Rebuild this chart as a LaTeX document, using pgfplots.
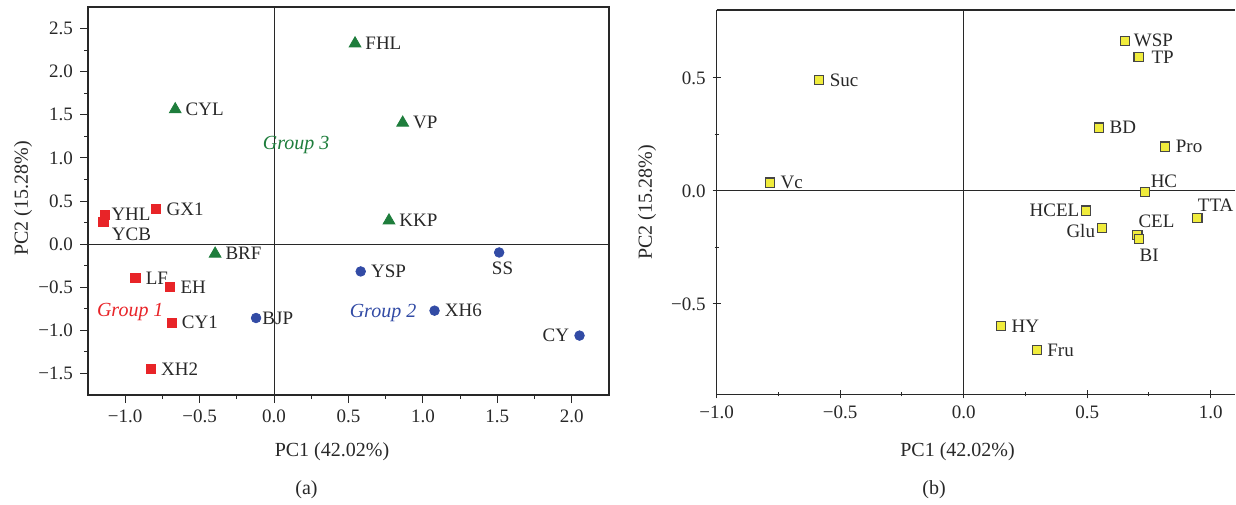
\documentclass[border=0pt]{standalone}
\usepackage{fontspec}
\setmainfont{Liberation Serif}
\usepackage{pgfplots}
\pgfplotsset{compat=1.18}
\definecolor{gred}{RGB}{232,36,40}
\definecolor{ggreen}{RGB}{30,125,60}
\definecolor{gblue}{RGB}{50,75,165}
\definecolor{gyel}{RGB}{240,236,60}
\definecolor{gedge}{RGB}{70,70,70}
\definecolor{ink}{RGB}{40,40,40}
\newcommand\lf{\fontsize{9.5}{11}\selectfont}
\newcommand\af{\fontsize{10}{12}\selectfont}

\pgfplotsset{
  pcastyle/.style={
    scale only axis,
    tick align=outside,
    major tick length=4pt, minor tick length=2pt,
    tick style={ink, line width=0.5pt},
    axis line style={ink, line width=0.6pt},
    ticklabel style={font=\lf, text=ink},
    minor x tick num=1, minor y tick num=1,
    clip=false,
  },
  lab/.style={
    only marks,
    nodes near coords,
    point meta=explicit symbolic,
    every node near coord/.append style={anchor=#1, font=\lf, text=ink, inner xsep=5pt, inner ysep=2pt},
  },
  nudge/.style 2 args={every node near coord/.append style={xshift=#1, yshift=#2}},
  redsq/.style={mark=square*, mark size=2.3pt, mark options={fill=gred, draw=gred}},
  greentri/.style={mark=triangle*, mark size=3.4pt, mark options={fill=ggreen, draw=ggreen}},
  bluedot/.style={mark=*, mark size=2.4pt, mark options={fill=gblue, draw=gblue}},
  yelsq/.style={mark=square*, mark size=2.3pt, mark options={fill=gyel, draw=gedge, line width=0.6pt}},
}

\begin{document}
\begin{tikzpicture}
\useasboundingbox (0,0) rectangle (618pt,252pt);

% ---------- panel (a)
\begin{axis}[pcastyle,
  at={(44pt,54.5pt)}, anchor=south west,
  width=260.5pt, height=194pt,
  xmin=-1.25, xmax=2.25, ymin=-1.75, ymax=2.75,
  tick pos=left,
  xtick={-1,-0.5,0,0.5,1,1.5,2},
  xticklabels={−1.0,−0.5,0.0,0.5,1.0,1.5,2.0},
  ytick={-1.5,-1,-0.5,0,0.5,1,1.5,2,2.5},
  yticklabels={−1.5,−1.0,−0.5,0.0,0.5,1.0,1.5,2.0,2.5},
]
\draw[ink, line width=0.5pt] (axis cs:0,-1.75) -- (axis cs:0,2.75);
\draw[ink, line width=0.5pt] (axis cs:-1.25,0) -- (axis cs:2.25,0);
% Group 1
\addplot[lab=west, redsq] coordinates {
  (-0.792,0.405) [GX1] (-0.931,-0.394) [LF]
  (-0.698,-0.498) [EH] (-0.689,-0.911) [CY1] (-0.828,-1.451) [XH2]};
\addplot[lab=west, nudge={-1.7pt}{0.5pt}, redsq] coordinates {(-1.139,0.339) [YHL]};
\addplot[lab=north west, nudge={-1pt}{-1pt}, redsq] coordinates {(-1.146,0.262) [YCB]};
% Group 3
\addplot[lab=west, greentri] coordinates {
  (-0.664,1.562) [CYL] (0.544,2.326) [FHL] (0.864,1.407) [VP]
  (0.772,0.273) [KKP] (-0.396,-0.112) [BRF]};
% Group 2
\addplot[lab=west, bluedot] coordinates {
  (0.582,-0.317) [YSP] (1.078,-0.772) [XH6]};
\addplot[lab=west, nudge={-2pt}{0pt}, bluedot] coordinates {(-0.121,-0.857) [BJP]};
\addplot[lab=north, nudge={1.7pt}{-2.5pt}, bluedot] coordinates {(1.512,-0.097) [SS]};
\addplot[lab=east, bluedot] coordinates {(2.052,-1.061) [CY]};
\node[text=gred, font=\af\itshape] at (axis cs:-0.966,-0.784) {Group 1};
\node[text=gblue, font=\af\itshape] at (axis cs:0.732,-0.799) {Group 2};
\node[text=ggreen, font=\af\itshape] at (axis cs:0.148,1.149) {Group 3};
\end{axis}

% ---------- panel (b)
\begin{axis}[pcastyle,
  at={(358.35pt,54.85pt)}, anchor=south west,
  width=259.35pt, height=192.1pt,
  xmin=-1, xmax=1.1, ymin=-0.9, ymax=0.8,
  axis lines=left, axis line style={-},
  xtick={-1,-0.5,0,0.5,1},
  xticklabels={−1.0,−0.5,0.0,0.5,1.0},
  ytick={-0.5,0,0.5},
  yticklabels={−0.5,0.0,0.5},
]
\draw[ink, line width=0.6pt] (rel axis cs:0,1) -- (rel axis cs:1,1);
\draw[ink, line width=0.5pt] (axis cs:0,-0.9) -- (axis cs:0,0.8);
\draw[ink, line width=0.5pt] (axis cs:-1,0) -- (axis cs:1.1,0);
\addplot[lab=west, yelsq] coordinates {
  (-0.585,0.491) [Suc] (-0.784,0.037) [Vc]
  (0.548,0.280) [BD] (0.816,0.196) [Pro]
  (0.151,-0.597) [HY] (0.296,-0.704) [Fru]};
\addplot[lab=west, nudge={-0.7pt}{0pt}, yelsq] coordinates {(0.652,0.664) [WSP]};
\addplot[lab=west, nudge={1.2pt}{0pt}, yelsq] coordinates {(0.708,0.593) [TP]};
\addplot[lab=south west, nudge={-2.3pt}{0pt}, yelsq] coordinates {(0.733,-0.006) [HC]};
\addplot[lab=south west, nudge={-4.7pt}{1.5pt}, yelsq] coordinates {(0.703,-0.195) [CEL]};
\addplot[lab=south west, nudge={-5pt}{1pt}, yelsq] coordinates {(0.946,-0.121) [TTA]};
\addplot[lab=east, nudge={1.8pt}{0pt}, yelsq] coordinates {(0.496,-0.087) [HCEL]};
\addplot[lab=east, nudge={1.8pt}{-1.5pt}, yelsq] coordinates {(0.560,-0.165) [Glu]};
\addplot[lab=north west, nudge={-5pt}{-3pt}, yelsq] coordinates {(0.710,-0.212) [BI]};
\end{axis}

% ---------- axis titles and panel letters
\node[font=\af, text=ink] at (166pt,26pt) {PC1 (42.02\%)};
\node[font=\af, text=ink] at (153.25pt,7pt) {(a)};
\node[font=\af, text=ink, rotate=90] at (11.5pt,152.75pt) {PC2 (15.28\%)};
\node[font=\af, text=ink] at (478.75pt,26pt) {PC1 (42.02\%)};
\node[font=\af, text=ink] at (467pt,7pt) {(b)};
\node[font=\af, text=ink, rotate=90] at (323.5pt,150.75pt) {PC2 (15.28\%)};
\end{tikzpicture}
\end{document}
